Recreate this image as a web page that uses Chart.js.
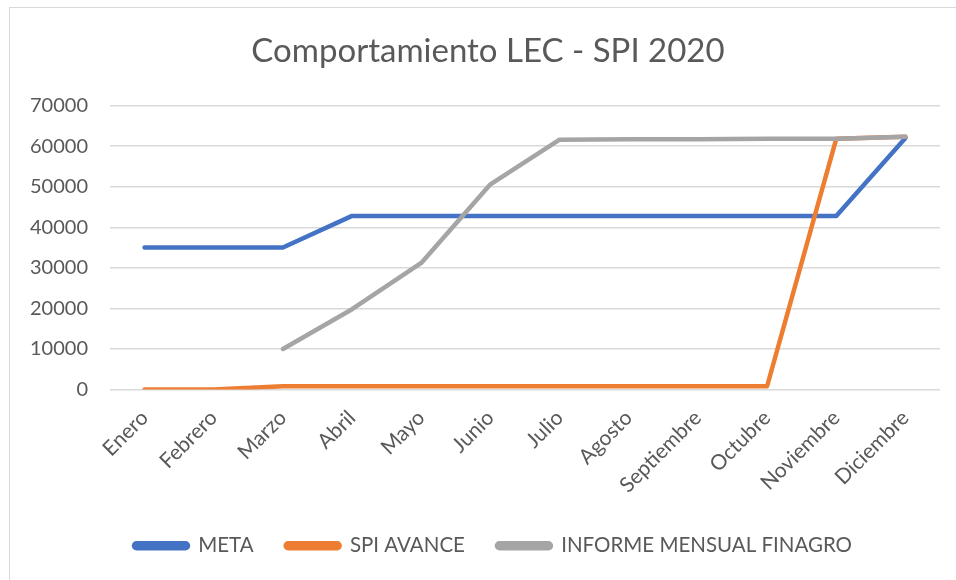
<!DOCTYPE html>
<html>
<head>
<meta charset="utf-8">
<script src="https://cdn.jsdelivr.net/npm/chart.js@4"></script>
<style>
    body { margin: 0; background: #fff; }
    #wrap { position: relative; width: 956px; height: 580px; overflow: hidden; }
    #frame { position: absolute; left: 9px; top: 7px; width: 960px; height: 600px; border: 1px solid #d9d9d9; }
    canvas { position: absolute; left: 0; top: 0; }
</style>
</head>
<body>
<div id="wrap">
    <div id="frame"></div>
    <canvas id="lecChart" width="956" height="580"></canvas>
</div>
<script>
// Data
const months = ['Enero', 'Febrero', 'Marzo', 'Abril', 'Mayo', 'Junio', 'Julio', 'Agosto', 'Septiembre', 'Octubre', 'Noviembre', 'Diciembre'];
const meta = [35000, 35000, 35000, 42800, 42800, 42800, 42800, 42800, 42800, 42800, 42800, 62000];
const spiAvance = [0, 0, 800, 800, 800, 800, 800, 800, 800, 800, 61800, 62300];
const informeFinagro = [null, null, 10000, 19800, 31200, 50600, 61600, 61700, 61700, 61800, 61800, 62300];
const yTicks = [0, 10000, 20000, 30000, 40000, 50000, 60000, 70000];

const textColor = '#595959';
const fontFamily = 'Lato, "Noto Sans", sans-serif';

document.addEventListener('DOMContentLoaded', function() {
    const lineStyle = {
        borderWidth: 4.5,
        borderCapStyle: 'round',
        borderJoinStyle: 'round',
        pointRadius: 0,
        tension: 0,
        fill: false
    };

    // nudge title and legend to the right like the original
    const shiftBoxes = {
        id: 'shiftBoxes',
        afterLayout(chart) {
            chart.titleBlock.left += 18;
            chart.titleBlock.right += 18;
            chart.legend.left += 23;
            chart.legend.right += 23;
        }
    };

    new Chart(document.getElementById('lecChart'), {
        type: 'line',
        data: {
            labels: months,
            datasets: [
                Object.assign({ label: 'META', data: meta, borderColor: '#4472C4', backgroundColor: '#4472C4', order: 3 }, lineStyle),
                Object.assign({ label: 'SPI AVANCE', data: spiAvance, borderColor: '#ED7D31', backgroundColor: '#ED7D31', order: 2 }, lineStyle),
                Object.assign({ label: 'INFORME MENSUAL FINAGRO', data: informeFinagro, borderColor: '#A5A5A5', backgroundColor: '#A5A5A5', order: 1 }, lineStyle)
            ]
        },
        options: {
            responsive: false,
            animation: false,
            events: [],
            layout: { padding: { left: 0, right: 16, top: 0, bottom: 14 } },
            plugins: {
                title: {
                    display: true,
                    text: 'Comportamiento LEC - SPI 2020',
                    color: textColor,
                    font: { family: fontFamily, size: 33, weight: 'normal' },
                    padding: { top: 32, bottom: 34 }
                },
                legend: {
                    position: 'bottom',
                    labels: {
                        color: textColor,
                        font: { family: fontFamily, size: 20.5 },
                        boxWidth: 54,
                        boxHeight: 5,
                        useBorderRadius: true,
                        borderRadius: 2.5,
                        padding: 32,
                        sort: (a, b) => a.datasetIndex - b.datasetIndex
                    }
                },
                tooltip: { enabled: false }
            },
            scales: {
                x: {
                    offset: true,
                    grid: { display: false, drawTicks: false },
                    border: { display: false },
                    ticks: {
                        color: textColor,
                        font: { family: fontFamily, size: 21 },
                        minRotation: 45,
                        maxRotation: 45,
                        autoSkip: false,
                        padding: 16
                    },
                    afterFit: function(scale) { scale.height = 114; }
                },
                y: {
                    min: 0,
                    max: 70000,
                    afterBuildTicks: function(scale) {
                        scale.ticks = yTicks.map(v => ({ value: v }));
                    },
                    grid: { color: '#d9d9d9', lineWidth: 1.5, drawTicks: false },
                    border: { display: false },
                    ticks: {
                        color: textColor,
                        font: { family: fontFamily, size: 20 },
                        padding: 22,
                        callback: v => String(v)
                    },
                    afterFit: function(scale) { scale.width = 110; }
                }
            }
        },
        plugins: [shiftBoxes]
    });
});
</script>
</body>
</html>
